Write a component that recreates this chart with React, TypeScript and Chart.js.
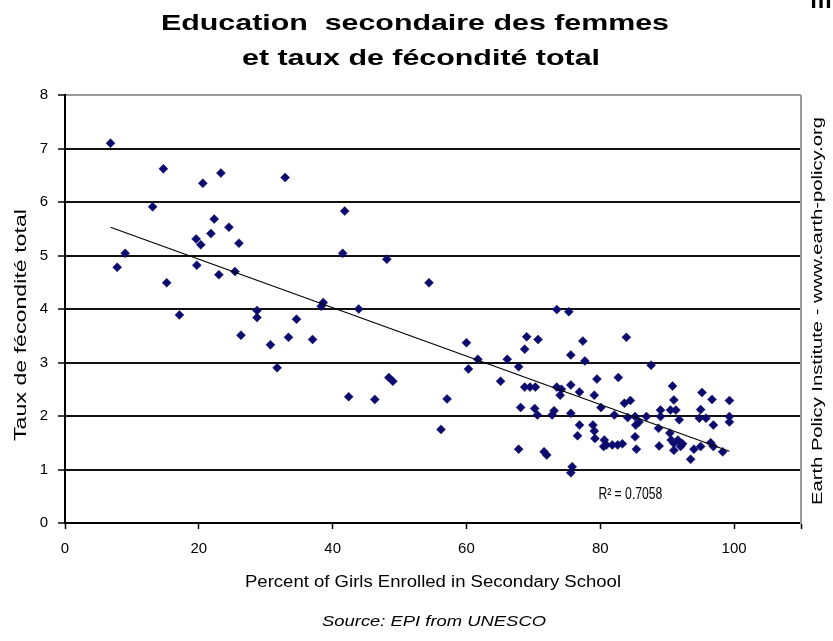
import { useEffect, useRef } from 'react';
import { Chart, registerables } from 'chart.js';

Chart.register(...registerables);

const TITLE_LINES = ['Education  secondaire des femmes', 'et taux de fécondité total'];
const X_TITLE = 'Percent of Girls Enrolled in Secondary School';
const Y_TITLE = 'Taux de fécondité total';
const SOURCE_NOTE = 'Source: EPI from UNESCO';
const SIDE_NOTE = 'Earth Policy Institute - www.earth-policy.org';
const R2_LABEL = 'R² = 0.7058';
const CORNER_FRAGMENT = 'm';

const X_TICKS = [0, 20, 40, 60, 80, 100];
const X_MAX = 110;
const Y_TICKS = [0, 1, 2, 3, 4, 5, 6, 7, 8];

// Percent of girls enrolled in secondary school
const GIRLS_ENROLLED = [
  6.8, 14.7, 20.6, 23.3, 32.9, 13.1, 22.3, 24.5, 21.8, 19.6,
  20.3, 26.0, 9.0, 7.8, 19.7, 23.0, 25.4, 15.2, 17.1, 28.7,
  28.7, 34.6, 26.3, 33.4, 30.7, 31.7, 41.8, 41.5, 48.1, 54.4,
  38.3, 38.6, 43.9, 37.0, 48.4, 49.0, 42.4, 46.3, 56.2, 57.1,
  60.0, 60.3, 61.7, 66.1, 67.8, 65.1, 68.1, 67.8, 69.0, 68.7,
  73.5, 75.3, 70.7, 77.4, 75.6, 77.7, 83.9, 87.6, 79.5, 82.7,
  90.8, 68.7, 69.5, 70.3, 73.5, 74.2, 74.0, 75.6, 76.9, 79.1,
  80.1, 70.2, 70.6, 73.1, 72.8, 75.6, 82.1, 76.9, 76.6, 78.9,
  79.1, 79.2, 80.6, 80.9, 80.5, 81.8, 82.6, 83.3, 71.6, 72.0,
  75.8, 75.6, 83.6, 84.5, 91.0, 91.3, 90.5, 95.2, 96.7, 99.3,
  95.0, 84.1, 85.2, 86.9, 85.8, 85.3, 89.0, 89.0, 88.7, 91.8,
  94.8, 95.8, 96.9, 99.3, 99.3, 85.2, 85.4, 88.8, 90.4, 90.6,
  91.0, 91.6, 92.0, 91.0, 92.3, 93.5, 94.0, 95.0, 96.5, 96.9,
  98.3,
];

// Total fertility rate
const FERTILITY_RATE = [
  7.10, 6.62, 6.35, 6.54, 6.46, 5.91, 5.68, 5.53, 5.41, 5.31,
  5.20, 5.23, 5.04, 4.78, 4.82, 4.64, 4.70, 4.49, 3.89, 3.97,
  3.84, 3.81, 3.51, 3.47, 3.33, 2.90, 5.83, 5.04, 4.93, 4.49,
  4.05, 4.12, 4.00, 3.43, 2.72, 2.65, 2.36, 2.31, 1.75, 2.32,
  3.37, 2.88, 3.06, 3.06, 2.92, 2.65, 2.16, 1.38, 3.48, 3.25,
  3.99, 3.95, 3.43, 3.40, 3.14, 3.03, 3.47, 2.95, 2.69, 2.72,
  2.56, 2.54, 2.54, 2.54, 2.54, 2.50, 2.39, 2.58, 2.45, 2.39,
  2.16, 2.14, 2.02, 2.10, 2.02, 2.05, 2.02, 1.83, 1.63, 1.83,
  1.72, 1.58, 1.55, 1.46, 1.43, 1.46, 1.46, 1.48, 1.33, 1.27,
  1.05, 0.94, 2.24, 2.29, 2.30, 2.11, 2.11, 2.44, 2.31, 2.29,
  2.12, 1.97, 1.99, 1.99, 1.89, 1.83, 2.11, 1.99, 1.77, 1.93,
  1.96, 1.96, 1.83, 1.99, 1.89, 1.61, 1.38, 1.44, 1.68, 1.55,
  1.49, 1.55, 1.43, 1.36, 1.48, 1.19, 1.38, 1.43, 1.50, 1.43,
  1.33,
];

function linearFit(xs: number[], ys: number[]) {
  const n = xs.length;
  const mx = xs.reduce((a, b) => a + b, 0) / n;
  const my = ys.reduce((a, b) => a + b, 0) / n;
  let sxy = 0;
  let sxx = 0;
  for (let i = 0; i < n; i++) {
    sxy += (xs[i] - mx) * (ys[i] - my);
    sxx += (xs[i] - mx) * (xs[i] - mx);
  }
  const slope = sxy / sxx;
  return { slope, intercept: my - slope * mx };
}

const SANS = '"Liberation Sans", Arial, Helvetica, sans-serif';

function drawFitted(
  ctx: CanvasRenderingContext2D,
  text: string,
  x: number,
  y: number,
  font: string,
  targetLength: number,
  rotation = 0,
) {
  ctx.save();
  ctx.font = font;
  ctx.textAlign = 'center';
  ctx.textBaseline = 'middle';
  const w = ctx.measureText(text).width;
  ctx.translate(x, y);
  ctx.rotate(rotation);
  ctx.scale(targetLength / w, 1);
  ctx.fillText(text, 0, 0);
  ctx.restore();
}

const annotations = {
  id: 'annotations',
  beforeDatasetsDraw(chart: any) {
    const { ctx, chartArea } = chart;
    ctx.save();
    ctx.strokeStyle = '#9a9a9a';
    ctx.lineWidth = 2;
    ctx.beginPath();
    ctx.moveTo(chartArea.right, chartArea.top);
    ctx.lineTo(chartArea.right, chartArea.bottom + 1);
    ctx.stroke();
    ctx.restore();
  },
  afterDraw(chart: any) {
    const { ctx, scales } = chart;
    ctx.save();
    ctx.fillStyle = '#000';
    drawFitted(ctx, TITLE_LINES[0], 415, 24, `bold 22px ${SANS}`, 508);
    drawFitted(ctx, TITLE_LINES[1], 421, 59, `bold 22px ${SANS}`, 358);
    drawFitted(ctx, X_TITLE, 433, 583, `16px ${SANS}`, 376);
    drawFitted(ctx, SOURCE_NOTE, 434, 622, `italic 14px ${SANS}`, 224);
    drawFitted(ctx, Y_TITLE, 22, 325, `16px ${SANS}`, 232, -Math.PI / 2);
    drawFitted(ctx, SIDE_NOTE, 818, 311, `15px ${SANS}`, 388, -Math.PI / 2);
    const rx = scales.x.getPixelForValue(84.5);
    const ry = scales.y.getPixelForValue(0.54);
    drawFitted(ctx, R2_LABEL, rx, ry, `16px ${SANS}`, 64);
    ctx.font = `bold 24px ${SANS}`;
    ctx.textAlign = 'center';
    ctx.textBaseline = 'alphabetic';
    ctx.fillText(CORNER_FRAGMENT, 821, 8);
    ctx.restore();
  },
};

export default function App() {
  const ref = useRef<HTMLCanvasElement | null>(null);

  useEffect(() => {
    const canvas = ref.current;
    if (!canvas) return;
    const points = GIRLS_ENROLLED.map((x, i) => ({ x, y: FERTILITY_RATE[i] }));
    const fit = linearFit(GIRLS_ENROLLED, FERTILITY_RATE);
    const xMin = Math.min(...GIRLS_ENROLLED);
    const xMax = Math.max(...GIRLS_ENROLLED);
    const trend = [
      { x: xMin, y: fit.intercept + fit.slope * xMin },
      { x: xMax, y: fit.intercept + fit.slope * xMax },
    ];
    const tickFont = { family: SANS, size: 15 };

    const chart = new Chart(canvas, {
      type: 'scatter',
      data: {
        datasets: [
          {
            type: 'line',
            data: trend,
            borderColor: '#000',
            borderWidth: 1.2,
            pointRadius: 0,
            fill: false,
            order: 0,
          } as any,
          {
            data: points,
            pointStyle: 'rectRot',
            pointRadius: 4.5,
            backgroundColor: '#0c0c6e',
            borderColor: '#0c0c6e',
            borderWidth: 0.5,
            order: 1,
          },
        ],
      },
      options: {
        responsive: false,
        animation: false,
        layout: { padding: { top: 95, right: 32, bottom: 0, left: 0 } },
        plugins: {
          legend: { display: false },
          tooltip: { enabled: false },
          title: { display: false },
        },
        scales: {
          x: {
            type: 'linear',
            min: 0,
            max: X_MAX,
            afterBuildTicks: (s: any) => {
              s.ticks = [...X_TICKS, X_MAX].map((v) => ({ value: v }));
            },
            ticks: {
              autoSkip: false,
              maxRotation: 0,
              color: '#000',
              font: tickFont,
              padding: 11,
              callback: (v: any) => (X_TICKS.includes(Number(v)) ? String(v) : ''),
            },
            grid: {
              drawOnChartArea: false,
              drawTicks: true,
              tickLength: 6,
              tickColor: '#000',
              tickWidth: 1.5,
            },
            border: { color: '#000', width: 2 },
            afterFit: (s: any) => {
              s.height = 118;
            },
          },
          y: {
            type: 'linear',
            min: 0,
            max: 8,
            afterBuildTicks: (s: any) => {
              s.ticks = Y_TICKS.map((v) => ({ value: v }));
            },
            ticks: {
              color: '#000',
              font: tickFont,
              padding: 10,
            },
            grid: {
              color: (c: any) => (c.tick && c.tick.value === 8 ? '#9a9a9a' : '#111'),
              lineWidth: 2,
              tickLength: 7,
              tickColor: '#000',
              tickWidth: 1.5,
            },
            border: { color: '#000', width: 2 },
            afterFit: (s: any) => {
              s.width = 65;
            },
          },
        },
      },
      plugins: [annotations],
    });
    return () => chart.destroy();
  }, []);

  return (
    <div style={{ position: 'absolute', left: 0, top: 0, width: 833, height: 641, background: '#fff' }}>
      <canvas ref={ref} width={833} height={641} />
    </div>
  );
}
